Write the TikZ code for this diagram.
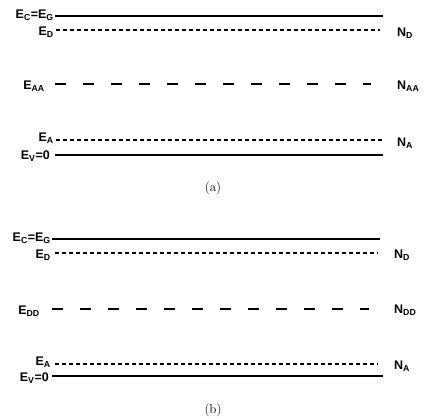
\documentclass[tikz,border=0pt]{standalone}
\usepackage{fontspec}
\newfontfamily\lvfont{Liberation Sans}
\usepackage{tikz}
\usetikzlibrary{positioning}

\begin{document}
\begin{tikzpicture}[x=1pt, y=-1pt,
  band/.style={line width=1.8pt},
  shallow/.style={line width=1.1pt, dash pattern=on 4pt off 3pt},
  deep/.style={line width=1.3pt, dash pattern=on 11pt off 17pt},
  lvl/.style={font=\lvfont\bfseries\fontsize{12.5}{14}\selectfont, inner sep=1pt},
  panel/.style={font=\fontsize{13}{15}\selectfont, inner sep=1pt}
]
  \useasboundingbox (0,0) rectangle (426,419);

  % (a) levels
  \draw[band]    (55,16)  -- (383,16);
  \draw[shallow] (56,30)  -- (380,30);
  \draw[deep]    (55,84)  -- (371,84);
  \draw[shallow] (56,140) -- (383,140);
  \draw[band]    (55,155) -- (383,155);

  % (a) labels
  \node[lvl, anchor=east] (ecA)  at (55,15)  {E\textsubscript{C}=E\textsubscript{G}};
  \node[lvl, anchor=east] (edA)  at (55,32)  {E\textsubscript{D}};
  \node[lvl, anchor=east] (eaaA) at (46,86)  {E\textsubscript{AA}};
  \node[lvl, anchor=east] (eaA)  at (55,138) {E\textsubscript{A}};
  \node[lvl, anchor=east] (evA)  at (51,156) {E\textsubscript{V}=0};
  \node[lvl, anchor=west] (ndA)  at (396,33)  {N\textsubscript{D}};
  \node[lvl, anchor=west] (naaA) at (396,86)  {N\textsubscript{AA}};
  \node[lvl, anchor=west] (naA)  at (396,143) {N\textsubscript{A}};
  \node[panel] (capA) at (213,188) {(a)};

  % (b) levels
  \draw[band]    (52,239) -- (380,239);
  \draw[shallow] (55,253) -- (378,253);
  \draw[deep]    (52,309) -- (369,309);
  \draw[shallow] (55,364) -- (378,364);
  \draw[band]    (52,376) -- (383,376);

  % (b) labels
  \node[lvl, anchor=east] (ecB)  at (52,238) {E\textsubscript{C}=E\textsubscript{G}};
  \node[lvl, anchor=east] (edB)  at (52,255) {E\textsubscript{D}};
  \node[lvl, anchor=east] (eddB) at (41,311) {E\textsubscript{DD}};
  \node[lvl, anchor=east] (eaB)  at (52,362) {E\textsubscript{A}};
  \node[lvl, anchor=east] (evB)  at (50,378) {E\textsubscript{V}=0};
  \node[lvl, anchor=west] (ndB)  at (393,255) {N\textsubscript{D}};
  \node[lvl, anchor=west] (nddB) at (393,310) {N\textsubscript{DD}};
  \node[lvl, anchor=west] (naB)  at (393,366) {N\textsubscript{A}};
  \node[panel] (capB) at (213,410) {(b)};

\end{tikzpicture}
\end{document}
